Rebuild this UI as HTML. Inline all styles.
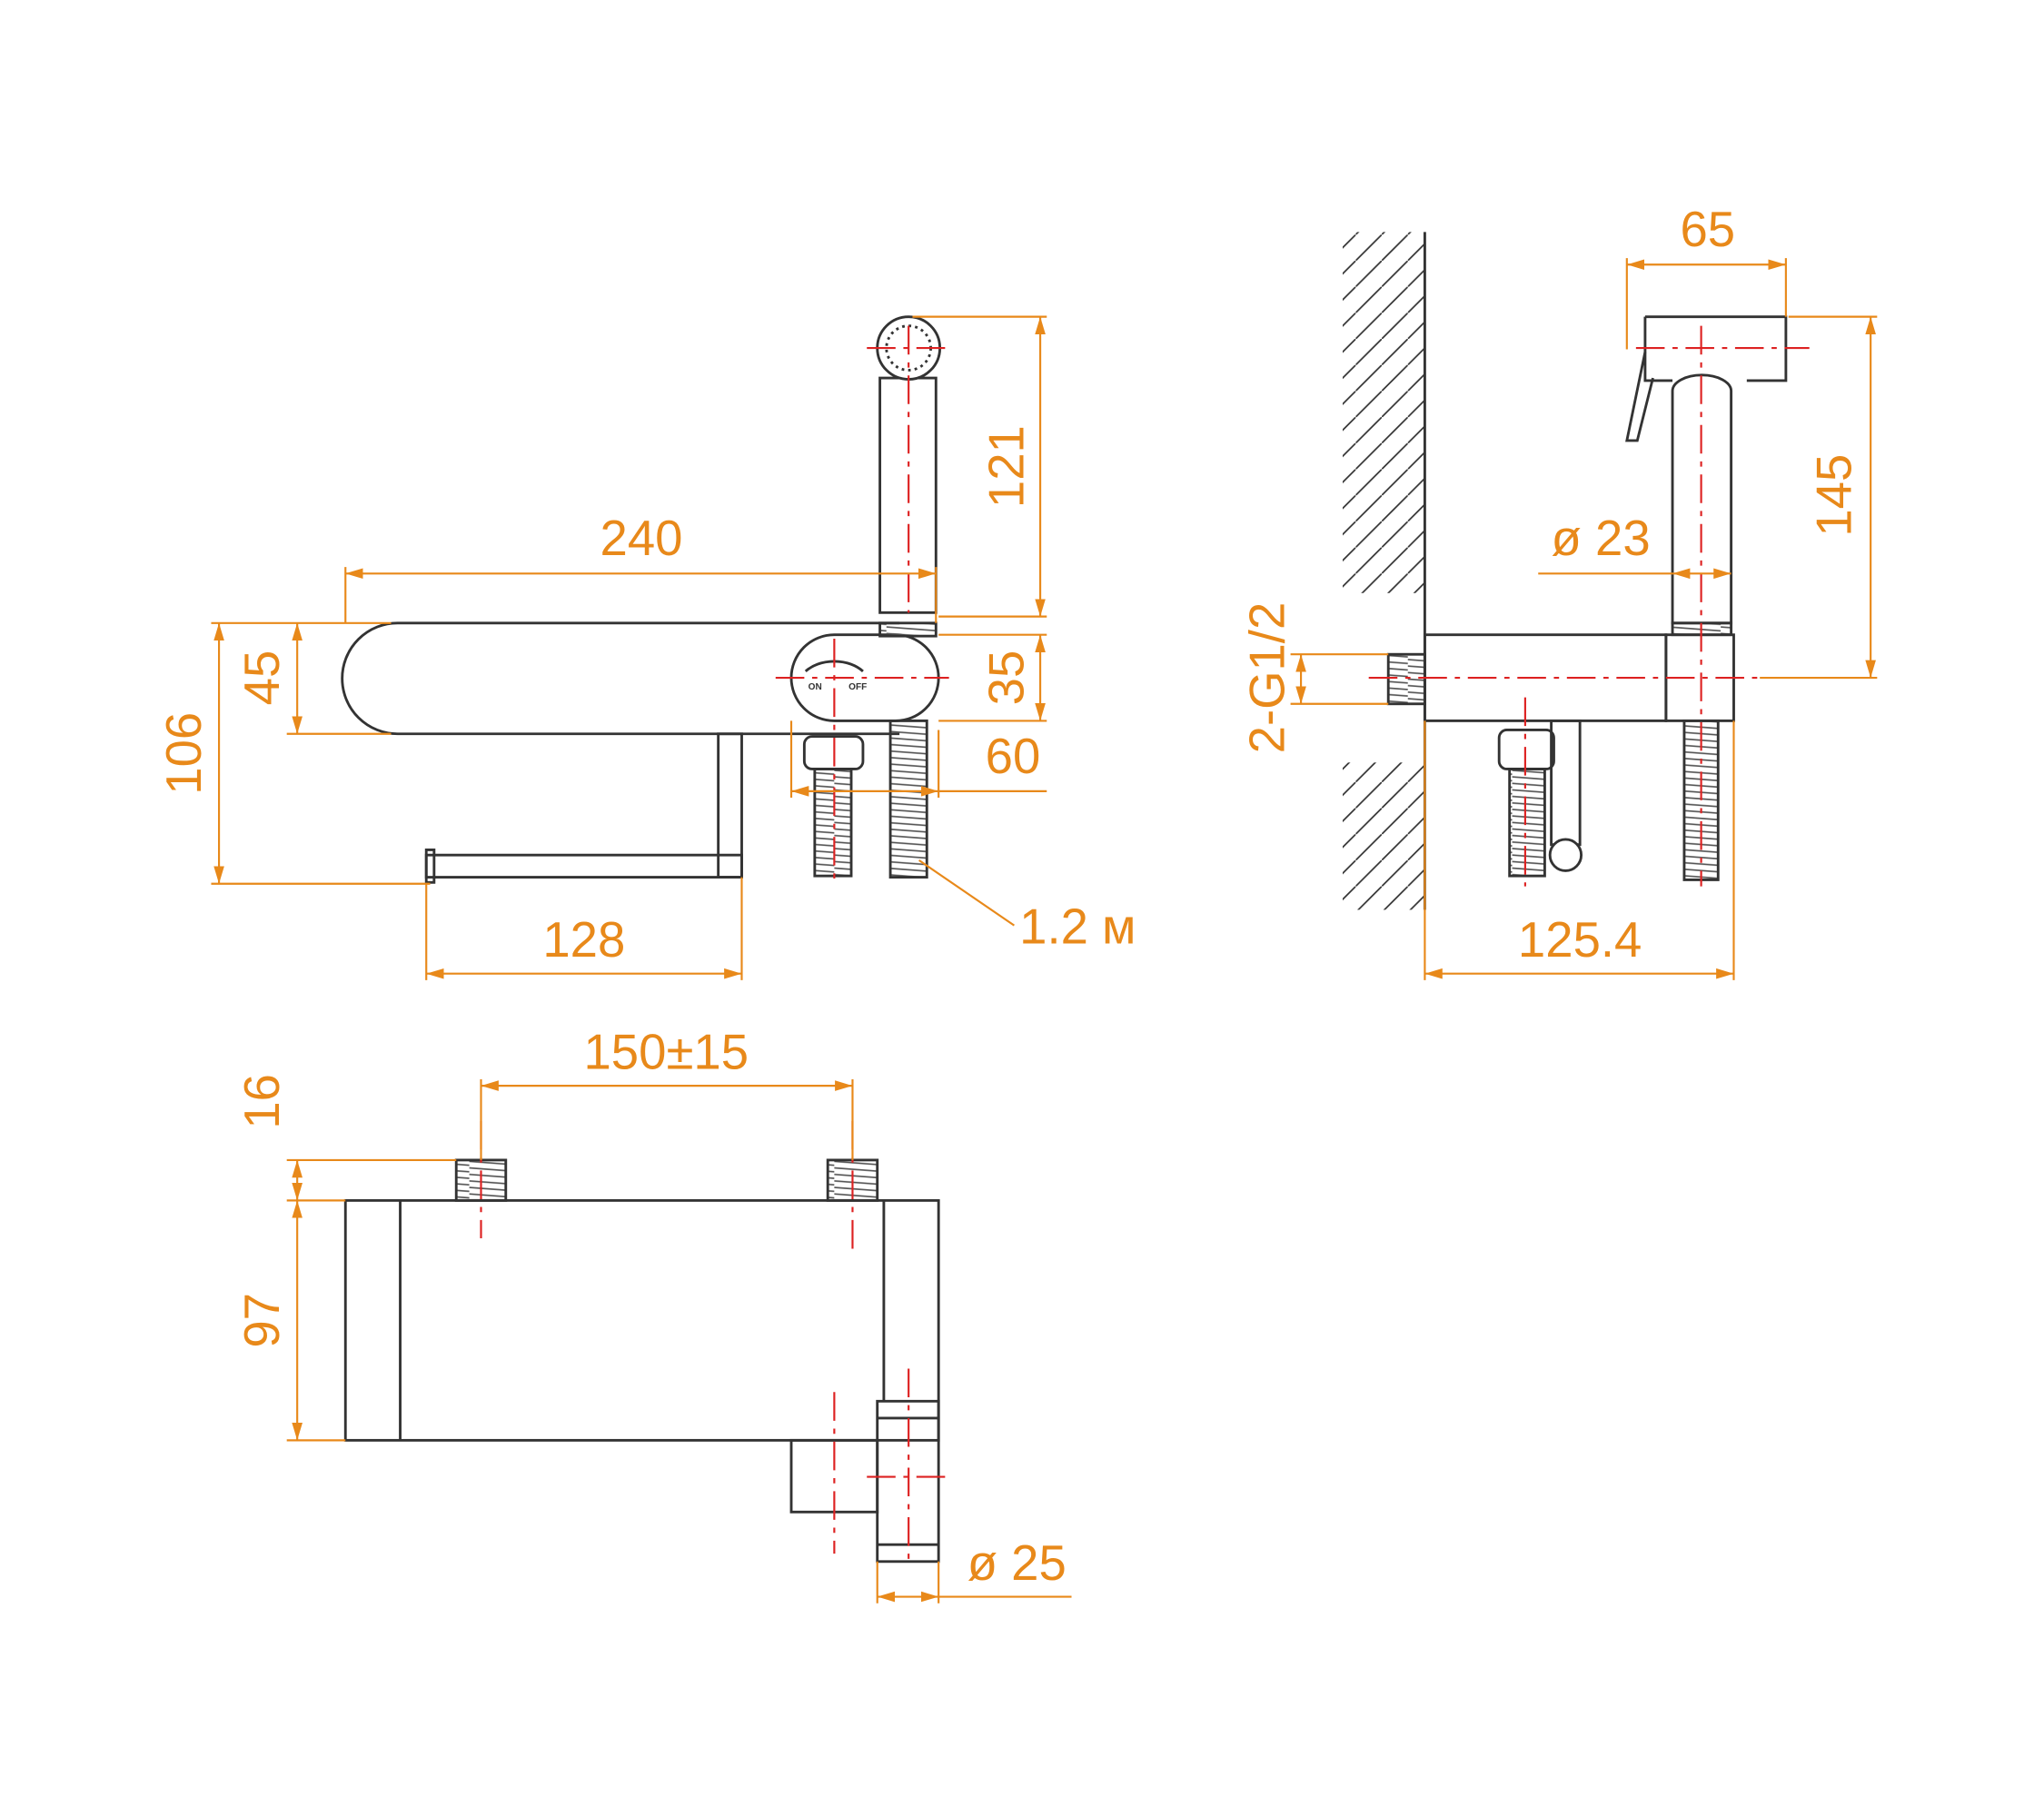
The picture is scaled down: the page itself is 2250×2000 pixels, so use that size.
<!DOCTYPE html>
<html><head><meta charset="utf-8"><style>
html,body{margin:0;padding:0;background:#fff;}
svg{display:block;}
text{font-family:"Liberation Sans",sans-serif;font-size:38px;fill:#E8891A;}
</style></head><body>
<svg width="2250" height="2000" viewBox="0 0 1568 1394" preserveAspectRatio="none" xmlns="http://www.w3.org/2000/svg">
<defs>
<marker id="a" viewBox="0 0 10 10" refX="10" refY="5" markerWidth="9" markerHeight="9" orient="auto-start-reverse"><path d="M0,2 L10,5 L0,8 z" fill="#E8891A"/></marker>
<pattern id="thr" width="40" height="5" patternUnits="userSpaceOnUse"><path d="M0,1 L40,4" stroke="#555" stroke-width="1.2"/></pattern>
<pattern id="hh" width="20" height="20" patternUnits="userSpaceOnUse"><path d="M0,20 L20,0" stroke="#333" stroke-width="1.2"/></pattern>
</defs>
<g fill="none" stroke="#333" stroke-width="2">
<path d="M305,478 L690,478 M305,563 L690,563 M305,478 A42,42 0 0 0 305,563"/>
<rect x="607" y="487" width="113" height="66" rx="33" fill="#fff"/>
<path d="M618,515 A28,20 0 0 1 662,515"/>
<rect x="675" y="290" width="43" height="180"/>
<circle cx="697" cy="267" r="24" fill="#fff"/>
<circle cx="697" cy="267" r="17" stroke-dasharray="2 3"/>
<rect x="675" y="478" width="43" height="10" fill="url(#thr)"/>
<rect x="551" y="563" width="18" height="110"/>
<rect x="327" y="656" width="242" height="17"/>
<rect x="327" y="652" width="6" height="25"/>
<rect x="617" y="565" width="45" height="25" rx="6"/>
<rect x="625" y="590" width="28" height="82" fill="url(#thr)"/>
<rect x="683" y="553" width="28" height="120" fill="url(#thr)"/>
<rect x="1030" y="178" width="63" height="277" fill="url(#hh)" stroke="none"/>
<rect x="1030" y="585" width="63" height="113" fill="url(#hh)" stroke="none"/>
<path d="M1093,178 L1093,698"/>
<rect x="1093" y="487" width="185" height="66"/>
<rect x="1278" y="487" width="52" height="66"/>
<rect x="1065" y="502" width="28" height="38" fill="url(#thr)"/>
<path d="M1262,243 L1370,243 L1370,292 L1340,292 M1262,243 L1262,292 L1283,292"/>
<path d="M1262,270 L1248,338 L1256,338 L1268,290"/>
<path d="M1283,300 A22,12 0 0 1 1328,300 L1328,478 L1283,478 Z"/>
<rect x="1283" y="478" width="45" height="9" fill="url(#thr)"/>
<rect x="1292" y="553" width="26" height="122" fill="url(#thr)"/>
<rect x="1150" y="560" width="42" height="30" rx="6"/>
<rect x="1158" y="590" width="27" height="82" fill="url(#thr)"/>
<rect x="1190" y="553" width="22" height="95"/>
<circle cx="1201" cy="656" r="12" fill="#fff"/>
<rect x="265" y="921" width="455" height="184"/>
<path d="M307,921 L307,1105 M678,921 L678,1075"/>
<rect x="350" y="890" width="38" height="31" fill="url(#thr)"/>
<rect x="635" y="890" width="38" height="31" fill="url(#thr)"/>
<rect x="607" y="1105" width="66" height="55"/>
<rect x="673" y="1075" width="47" height="123"/>
<path d="M673,1088 L720,1088 M673,1185 L720,1185"/>
</g>
<text x="620" y="529" style="font-size:7px;fill:#333;font-weight:bold">ON</text>
<text x="651" y="529" style="font-size:7px;fill:#333;font-weight:bold">OFF</text>
<g stroke="#D22" stroke-width="1.5" stroke-dasharray="22 6 4 6" fill="none">
<path d="M697,250 L697,470 M665,267 L728,267 M640,490 L640,680 M595,520 L728,520"/>
<path d="M1050,520 L1350,520 M1255,267 L1388,267 M1305,250 L1305,680 M1170,535 L1170,680"/>
<path d="M369,860 L369,950 M654,860 L654,960 M640,1068 L640,1192 M697,1050 L697,1200 M665,1133 L730,1133"/>
</g>
<g stroke="#E8891A" stroke-width="1.5" fill="none">
<path d="M265,435 L265,478 M718,435 L718,478 M700,243 L803,243 M720,473 L803,473 M720,487 L803,487 M720,553 L803,553 M607,553 L607,612 M720,560 L720,612"/>
<path d="M220,478 L300,478 M220,563 L300,563 M162,478 L265,478 M162,678 L330,678 M327,678 L327,752 M569,673 L569,752 M705,660 L778,710"/>
<path d="M1248,198 L1248,268 M1370,198 L1370,243 M1372,243 L1440,243 M1350,520 L1440,520 M1180,440 L1283,440 M990,502 L1065,502 M990,540 L1065,540 M1093,553 L1093,752 M1330,553 L1330,752"/>
<path d="M369,828 L369,890 M654,828 L654,890 M220,890 L350,890 M220,921 L265,921 M220,1105 L265,1105 M673,1198 L673,1230 M720,1198 L720,1230 M720,1225 L822,1225"/>
</g>
<g stroke="#E8891A" stroke-width="1.5" fill="none" marker-start="url(#a)" marker-end="url(#a)">
<path d="M265,440 L718,440"/><path d="M798,243 L798,473"/><path d="M798,487 L798,553"/>
<path d="M607,607 L720,607"/><path d="M228,478 L228,563"/><path d="M168,478 L168,678"/>
<path d="M327,747 L569,747"/>
<path d="M1248,203 L1370,203"/><path d="M1435,243 L1435,520"/><path d="M1283,440 L1328,440"/>
<path d="M998,502 L998,540"/><path d="M1093,747 L1330,747"/>
<path d="M369,833 L654,833"/><path d="M228,890 L228,921"/><path d="M228,921 L228,1105"/><path d="M673,1225 L720,1225"/>
</g>
<path d="M720,607 L803,607" stroke="#E8891A" stroke-width="1.5"/>
<text x="492" y="426" text-anchor="middle">240</text>
<text transform="translate(785,358) rotate(-90)" text-anchor="middle">121</text>
<text transform="translate(785,520) rotate(-90)" text-anchor="middle">35</text>
<text x="777" y="593" text-anchor="middle">60</text>
<text transform="translate(214,520) rotate(-90)" text-anchor="middle">45</text>
<text transform="translate(154,578) rotate(-90)" text-anchor="middle">106</text>
<text x="448" y="734" text-anchor="middle">128</text>
<text x="782" y="724">1.2 м</text>
<text x="1310" y="189" text-anchor="middle">65</text>
<text transform="translate(1420,380) rotate(-90)" text-anchor="middle">145</text>
<text x="1228" y="426" text-anchor="middle">ø 23</text>
<text transform="translate(985,520) rotate(-90)" text-anchor="middle">2-G1/2</text>
<text x="1212" y="734" text-anchor="middle">125.4</text>
<text x="511" y="820" text-anchor="middle">150±15</text>
<text transform="translate(214,845) rotate(-90)" text-anchor="middle">16</text>
<text transform="translate(214,1013) rotate(-90)" text-anchor="middle">97</text>
<text x="780" y="1212" text-anchor="middle">ø 25</text>
</svg>
</body></html>
